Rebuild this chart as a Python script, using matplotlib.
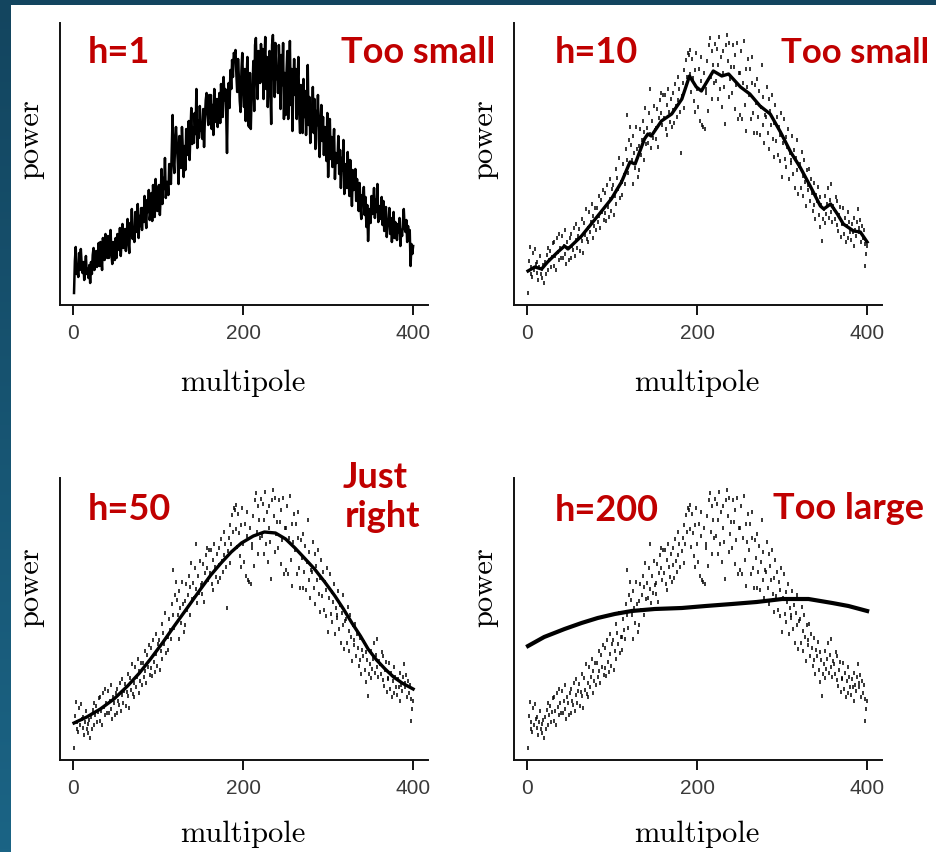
import numpy as np
import matplotlib
matplotlib.use("Agg")
import matplotlib.pyplot as plt
from matplotlib.colors import LinearSegmentedColormap
from matplotlib.patches import Rectangle

# CMB power spectrum (arbitrary power units)
multipole = np.arange(1, 401)
power = [
    12, 44, 58, 31, 38, 28, 52, 35, 56, 41,
    32, 43, 25, 38, 49, 31, 36, 27, 40, 22,
    43, 31, 50, 57, 35, 45, 54, 38, 48, 62,
    39, 63, 49, 35, 67, 53, 45, 71, 57, 47,
    69, 47, 59, 75, 51, 41, 63, 57, 45, 67,
    47, 71, 59, 55, 77, 49, 65, 81, 57, 69,
    76, 54, 68, 86, 64, 52, 82, 70, 96, 66,
    77, 63, 93, 73, 83, 101, 67, 89, 79, 97,
    75, 97, 83, 109, 89, 77, 105, 93, 115, 85,
    92, 112, 84, 120, 98, 88, 126, 106, 94, 116,
    120, 90, 109, 136, 101, 127, 116, 147, 107, 123,
    123, 110, 141, 130, 121, 156, 190, 145, 132, 165,
    178, 160, 145, 121, 169, 152, 137, 178, 156, 128,
    159, 135, 176, 150, 165, 184, 145, 173, 197, 161,
    177, 162, 192, 171, 216, 157, 184, 167, 199, 175,
    177, 166, 196, 158, 187, 205, 212, 192, 180, 210,
    187, 210, 176, 200, 170, 216, 193, 183, 206, 178,
    195, 212, 182, 221, 199, 188, 228, 205, 216, 193,
    152, 209, 222, 197, 235, 216, 245, 228, 252, 250,
    255, 231, 213, 246, 227, 204, 193, 235, 252, 216,
    198, 236, 184, 224, 248, 180, 178, 232, 176, 212,
    216, 244, 194, 260, 267, 228, 206, 254, 240, 222,
    261, 224, 256, 206, 240, 268, 216, 248, 198, 232,
    254, 218, 181, 260, 270, 244, 208, 262, 226, 238,
    212, 260, 238, 196, 250, 220, 262, 186, 232, 190,
    232, 254, 186, 222, 264, 200, 236, 174, 218, 246,
    210, 236, 186, 222, 248, 192, 172, 220, 202, 172,
    226, 188, 214, 170, 198, 240, 180, 208, 162, 190,
    188, 218, 172, 206, 156, 194, 180, 210, 166, 148,
    182, 200, 164, 188, 150, 178, 170, 144, 192, 128,
    162, 186, 146, 168, 138, 158, 176, 126, 152, 142,
    145, 169, 131, 155, 117, 147, 135, 165, 111, 139,
    141, 117, 153, 129, 109, 145, 123, 99, 135, 115,
    120, 136, 104, 126, 112, 94, 122, 100, 86, 110,
    104, 118, 90, 108, 78, 100, 64, 86, 96, 82,
    109, 91, 101, 117, 87, 105, 93, 121, 83, 99,
    96, 86, 108, 80, 104, 74, 90, 98, 68, 82,
    81, 97, 71, 87, 63, 79, 93, 67, 83, 73,
    65, 81, 73, 87, 59, 75, 69, 83, 96, 77,
    73, 85, 63, 79, 67, 75, 39, 61, 51, 59,
]

# kernel regression curves
h10_x = [1, 9, 17, 24, 36, 44, 48, 64, 83, 99, 111, 121, 127, 138, 142, 146,
         158, 170, 182, 191, 199, 205, 219, 229, 237, 251, 262, 274, 286, 298,
         310, 321, 333, 345, 349, 357, 365, 372, 384, 392, 400]
h10_y = [34, 38, 36, 43, 53, 59, 56, 69, 89, 106, 123, 143, 141, 166, 171, 169,
         184, 191, 206, 229, 218, 214, 234, 229, 231, 218, 211, 199, 191, 173,
         153, 138, 119, 99, 96, 101, 91, 81, 74, 73, 63]

h50_x = [1, 16, 32, 48, 64, 78, 91, 105, 119, 135, 150, 162, 174, 186, 198,
         212, 225, 238, 250, 261, 272, 284, 296, 308, 318, 328, 338, 347, 357,
         367, 377, 387, 400]
h50_y = [37, 43, 51, 61, 74, 87, 101, 117, 134, 153, 171, 185, 197, 208, 217,
         224, 228, 227, 221, 212, 202, 191, 178, 164, 151, 137, 124, 111, 100,
         91, 83, 77, 71]

h200_x = [1, 20, 44, 64, 83, 103, 123, 150, 182, 210, 241, 270, 300, 331,
          359, 378, 400]
h200_y = [114, 123, 131, 137, 142, 146, 149, 151, 152, 154, 156, 158, 161,
          161, 157, 154, 149]

W, H = 936, 853
fig = plt.figure(figsize=(W / 100, H / 100), dpi=100)

# slide background
bg = fig.add_axes([0, 0, 1, 1], zorder=-10)
cmap = LinearSegmentedColormap.from_list("slide", ["#13455f", "#1b6485"])
bg.imshow(np.linspace(0, 1, 256).reshape(-1, 1), cmap=cmap, aspect="auto",
          extent=[0, 1, 0, 1])
bg.add_patch(Rectangle((11 / W, 0), (W - 11) / W, (H - 6) / H,
                       facecolor="white", edgecolor="none"))
bg.set_xlim(0, 1)
bg.set_ylim(0, 1)
bg.axis("off")

red = "#c00000"
tick_font = ["Liberation Sans Narrow", "Liberation Sans", "DejaVu Sans"]


def panel(left_px, top_px, ylab_y, xlab_y):
    ax = fig.add_axes([left_px / W, 1 - (top_px + 282) / H, 368 / W, 282 / H])
    ax.set_facecolor("none")
    ax.set_xlim(-15.5, 417.5)
    ax.set_ylim(0, 282)
    for s in ["top", "right"]:
        ax.spines[s].set_visible(False)
    for s in ["left", "bottom"]:
        ax.spines[s].set_linewidth(1.4)
        ax.spines[s].set_color("#111111")
    ax.set_yticks([])
    ax.set_xticks([0, 200, 400])
    ax.tick_params(axis="x", direction="out", length=7, width=1.3,
                   pad=6, labelsize=15, labelcolor="#3a3a3a")
    for lab in ax.get_xticklabels():
        lab.set_family(tick_font)
    ax.text(-0.08, ylab_y, "power", transform=ax.transAxes, rotation=90,
            ha="center", va="center", family="cmr10", fontsize=22)
    ax.text(0.497, xlab_y, "multipole", transform=ax.transAxes,
            ha="center", va="center", family="cmr10", fontsize=22)
    return ax


def label(x, y, s, ha="left", size=26):
    fig.text(x / W, 1 - y / H, s, color=red, fontsize=size, fontweight="bold",
             family=["Lato", "DejaVu Sans"], ha=ha, va="baseline")


dots = dict(color="black", ms=2.6, mew=1.1, ls="none")

# h = 1
ax1 = panel(60, 24, 0.59, -0.275)
ax1.plot(multipole, power, color="black", lw=1.8)
label(88, 63, "h=1")
label(495, 63, "Too small", ha="right")

# h = 10
ax2 = panel(514, 24, 0.59, -0.275)
ax2.plot(multipole, power, "|", **dots)
ax2.plot(h10_x, h10_y, color="black", lw=2.4)
label(555, 63, "h=10")
label(929, 63, "Too small", ha="right", size=25)

# h = 50
ax3 = panel(60, 479, 0.615, -0.26)
ax3.plot(multipole, power, "|", **dots)
ax3.plot(h50_x, h50_y, color="black", lw=2.4)
label(88, 520, "h=50")
label(343, 488, "Just")
label(345, 527, "right")

# h = 200
ax4 = panel(514, 479, 0.615, -0.26)
ax4.plot(multipole, power, "|", **dots)
ax4.plot(h200_x, h200_y, color="black", lw=3)
label(555, 521, "h=200")
label(924, 519, "Too large", ha="right")

fig.savefig("out.png", dpi=100)
